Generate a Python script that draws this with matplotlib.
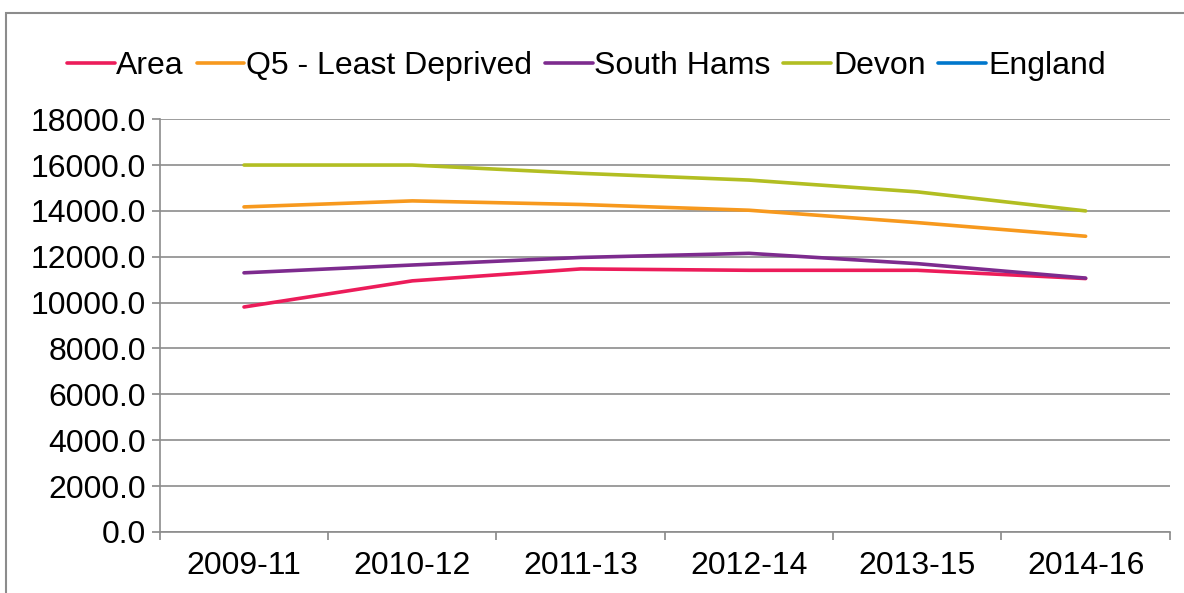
import numpy as np
import matplotlib.pyplot as plt
from matplotlib.patches import Rectangle

plt.rcParams['font.family'] = ['Liberation Sans', 'DejaVu Sans']

periods = ["2009-11", "2010-12", "2011-13", "2012-14", "2013-15", "2014-16"]
area = [9810, 10950, 11470, 11410, 11410, 11050]
q5_least = [14175, 14437, 14280, 14030, 13490, 12895]
south_hams = [11300, 11640, 11970, 12150, 11700, 11070]
devon = [16000, 16000, 15640, 15345, 14830, 14000]
england = [np.nan] * 6  # only in the legend

series = [
    ("Area", area, "#EC1C5A"),
    ("Q5 - Least Deprived", q5_least, "#F7991E"),
    ("South Hams", south_hams, "#7D2B8E"),
    ("Devon", devon, "#B2BE22"),
    ("England", england, "#0077CC"),
]

fs = 23

fig = plt.figure(figsize=(11.84, 5.93), dpi=100)
ax = fig.add_axes([0.135, 0.103, 0.853, 0.696])

x = np.arange(len(periods))
for name, vals, col in series:
    ax.plot(x, vals, color=col, lw=2.6, label=name, solid_capstyle="round")

ax.set_xlim(-0.5, len(periods) - 0.5)
ax.set_ylim(0, 18000)
ax.set_yticks(np.arange(0, 18001, 2000))
ax.set_yticklabels([f"{v:.1f}" for v in np.arange(0, 18001, 2000)])
ax.set_xticks(x)
ax.set_xticklabels(periods)
ax.set_xticks(np.arange(-0.5, len(periods), 1), minor=True)
ax.tick_params(axis="x", which="major", length=0, labelsize=fs, pad=14)
ax.tick_params(axis="x", which="minor", length=6, color="#888888", width=1.2)
ax.tick_params(axis="y", length=6, color="#888888", width=1.2, labelsize=fs, pad=4)

ax.grid(axis="y", color="#8c8c8c", lw=1.2)
ax.set_axisbelow(True)
for s in ["top", "right"]:
    ax.spines[s].set_visible(False)
for s in ["left", "bottom"]:
    ax.spines[s].set_color("#8c8c8c")
    ax.spines[s].set_linewidth(1.2)

fig.legend(loc="center", bbox_to_anchor=(0.495, 0.888), ncol=5, frameon=False,
           fontsize=fs, handlelength=1.5, handletextpad=0.05, columnspacing=0.4)

# chart frame (right and bottom edges fall outside the picture)
fig.patches.append(Rectangle((0.005, -0.05), 1.1, 1.028, transform=fig.transFigure,
                             fill=False, edgecolor="#8c8c8c", lw=1.5))

fig.savefig("out.png", dpi=100)
